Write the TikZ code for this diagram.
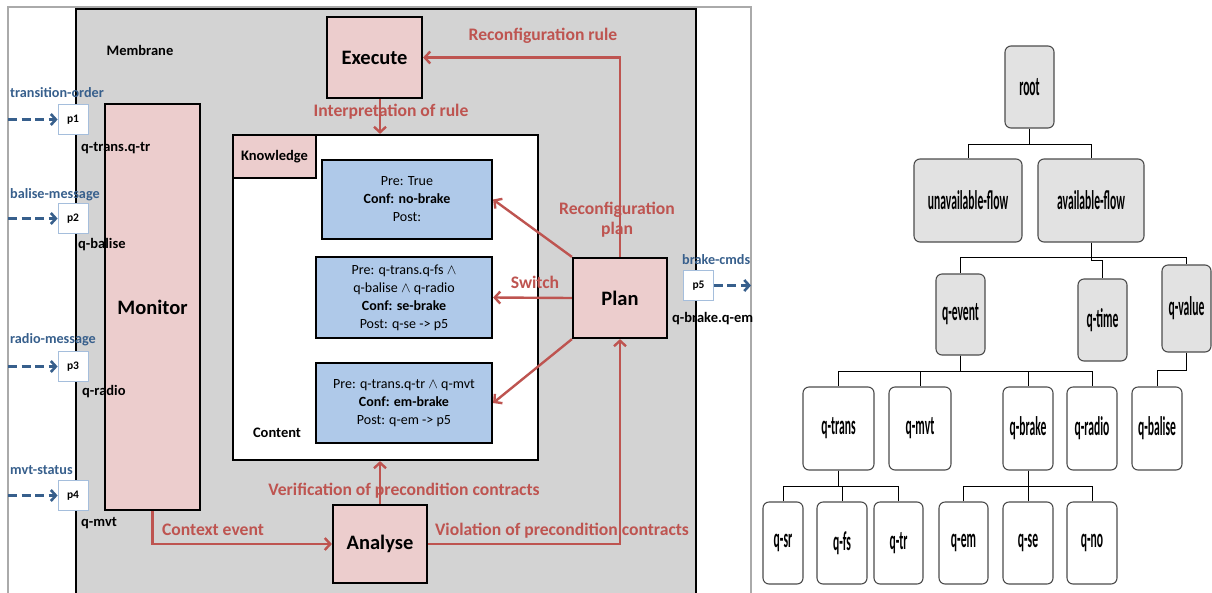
\documentclass[tikz,border=0pt]{standalone}
\usepackage{fontspec}
\setmainfont{Carlito}
\newfontfamily\treefont[FakeStretch=0.43]{Carlito}
\usetikzlibrary{arrows.meta}

\definecolor{memgray}{RGB}{211,211,211}
\definecolor{pinkfill}{RGB}{236,205,205}
\definecolor{bluefill}{RGB}{175,201,233}
\definecolor{flowred}{RGB}{190,84,80}
\definecolor{portblue}{RGB}{55,95,140}
\definecolor{portedge}{RGB}{165,190,220}
\definecolor{treegray}{RGB}{226,226,226}
\definecolor{framegray}{RGB}{170,170,170}

\tikzset{
  box/.style={draw=black, line width=2.2pt, inner sep=0pt},
  mape/.style={box, fill=pinkfill, font=\fontsize{20.5}{22}\selectfont\bfseries},
  contract/.style={box, fill=bluefill, align=center, font=\fontsize{14}{18}\selectfont},
  flow/.style={draw=flowred, line width=2.4pt, -{Straight Barb[length=5.5pt,width=12pt]}},
  flowlabel/.style={text=flowred, inner sep=0pt, font=\fontsize{17.6}{20}\selectfont\bfseries},
  port/.style={draw=portedge, fill=white, line width=0.8pt, minimum width=30pt,
    minimum height=30pt, inner sep=0pt, font=\fontsize{11.5}{12}\selectfont\bfseries},
  portlabel/.style={text=portblue, anchor=west, inner sep=0pt, font=\fontsize{14.2}{15}\selectfont\bfseries},
  qlabel/.style={anchor=west, inner sep=0pt, font=\fontsize{14.5}{15}\selectfont\bfseries},
  smalllabel/.style={inner sep=0pt, font=\fontsize{14.5}{15}\selectfont\bfseries},
  inflow/.style={draw=portblue, line width=2.6pt, dash pattern=on 9pt off 4.5pt,
    -{Straight Barb[length=5pt,width=11pt]}},
  tnode/.style={draw=black!70, line width=1.1pt, rounded corners=6pt, inner sep=0pt,
    font=\fontsize{27}{28}\selectfont\treefont\bfseries},
  tgray/.style={tnode, fill=treegray},
  twhite/.style={tnode, fill=white},
  tedge/.style={draw=black, line width=0.9pt},
}

\begin{document}
\begin{tikzpicture}[x=1pt, y=-1pt]
\useasboundingbox (0,0) rectangle (1212,592);
\begin{scope}
\clip (0,0) rectangle (1212,592);

% ---------------- MAPE-K component ----------------
\draw[framegray, line width=1.5pt] (8,620) -- (8,7) -- (751,7) -- (751,620);
\draw[box, fill=memgray] (76,9) rectangle (696,620);
\node[smalllabel] (membrane) at (140,50) {Membrane};

\node[mape, minimum width=95pt, minimum height=406pt] (monitor) at (152.5,307) {Monitor};
\node[mape, minimum width=95pt, minimum height=81pt] (execute) at (374.5,57.5) {Execute};
\node[mape, minimum width=94pt, minimum height=80pt] (plan) at (620,298) {Plan};
\node[mape, minimum width=94pt, minimum height=78pt] (analyse) at (380,544) {Analyse};

% knowledge base
\node[box, fill=white, minimum width=305pt, minimum height=325pt] (kb) at (385.5,297.5) {};
\node[box, fill=pinkfill, minimum width=83pt, minimum height=43pt,
      font=\fontsize{14.5}{15}\selectfont\bfseries, anchor=north west] (kblabel) at (kb.north west) {Knowledge};
\node[smalllabel] (content) at (277,433) {Content};

\node[contract, minimum width=170pt, minimum height=79pt] (c1) at (407,199.5)
  {Pre: True\\\textbf{Conf: no-brake}\\Post:};
\node[contract, minimum width=176pt, minimum height=81pt] (c2) at (404,297.5)
  {Pre: q-trans.q-fs $\wedge$\\q-balise $\wedge$ q-radio\\\textbf{Conf: se-brake}\\Post: q-se -> p5};
\node[contract, minimum width=176pt, minimum height=80pt] (c3) at (404,403)
  {Pre: q-trans.q-tr $\wedge$ q-mvt\\\textbf{Conf: em-brake}\\Post: q-em -> p5};

% control flow
\draw[flow] ([xshift=5.5pt]execute.south) -- ([xshift=5.5pt]execute.south |- kb.north);
\draw[flow] (plan.north) |- (execute.east);
\draw[flow] (plan.north west) -- (c1.east);
\draw[flow] (plan.west) -- (c2.east);
\draw[flow] (plan.south west) -- (c3.east);
\draw[flow] (analyse.north) -- (analyse.north |- kb.south);
\draw[flow] (analyse.east) -| (plan.south);
\draw[flow] (monitor.south) |- (analyse.west);

\node[flowlabel] (lint) at (391,112) {Interpretation of rule};
\node[flowlabel] (lrule) at (543,36) {Reconfiguration rule};
\node[flowlabel, align=center] (lplan) at (617,220) {Reconfiguration\\plan};
\node[flowlabel] (lswitch) at (535,282) {Switch};
\node[flowlabel] (lverif) at (404,491) {Verification of precondition contracts};
\node[flowlabel] (lctx) at (213,530) {Context event};
\node[flowlabel] (lviol) at (562,531) {Violation of precondition contracts};

% ports
\node[port] (p1) at (73,119.5) {p1};
\node[port] (p2) at (73,218.5) {p2};
\node[port] (p3) at (73,366.5) {p3};
\node[port] (p4) at (73,495.5) {p4};
\node[port] (p5) at (698.5,285.5) {p5};
\coordinate (in1) at (8,119.5);
\coordinate (in2) at (8,218.5);
\coordinate (in3) at (8,366.5);
\coordinate (in4) at (8,495.5);
\coordinate (out5) at (751,285.5);
\draw[inflow] (in1) -- (p1.west);
\draw[inflow] (in2) -- (p2.west);
\draw[inflow] (in3) -- (p3.west);
\draw[inflow] (in4) -- (p4.west);
\draw[inflow] (p5.east) -- (out5);

\node[portlabel] (t1) at (10,93) {transition-order};
\node[portlabel] (t2) at (10,195) {balise-message};
\node[portlabel] (t3) at (10,340) {radio-message};
\node[portlabel] (t4) at (10,470) {mvt-status};
\node[portlabel] (t5) at (682,260) {brake-cmds};

\node[qlabel] (q1) at (81,148) {q-trans.q-tr};
\node[qlabel] (q2) at (78,245) {q-balise};
\node[qlabel] (q3) at (82,392) {q-radio};
\node[qlabel] (q4) at (81,523) {q-mvt};
\node[qlabel] (q5) at (672,319) {q-brake.q-em};

% ---------------- event type hierarchy ----------------
\node[tgray, minimum width=49pt, minimum height=82pt] (root) at (1029.5,87) {root};
\node[tgray, minimum width=108pt, minimum height=83pt] (unav) at (968,200.5) {unavailable-flow};
\node[tgray, minimum width=106pt, minimum height=83pt] (avail) at (1091,200.5) {available-flow};
\node[tgray, minimum width=49pt, minimum height=81pt] (qevent) at (960.5,314.5) {q-event};
\node[tgray, minimum width=49pt, minimum height=82pt] (qtime) at (1102.5,320) {q-time};
\node[tgray, minimum width=49pt, minimum height=87pt] (qvalue) at (1186.5,308.5) {q-value};

\node[twhite, minimum width=71pt, minimum height=83pt] (qtrans) at (838.5,428.5) {q-trans};
\node[twhite, minimum width=62pt, minimum height=83pt] (qmvt) at (920,428.5) {q-mvt};
\node[twhite, minimum width=50pt, minimum height=83pt] (qbrake) at (1028,428.5) {q-brake};
\node[twhite, minimum width=50pt, minimum height=83pt] (qradio) at (1092,428.5) {q-radio};
\node[twhite, minimum width=50pt, minimum height=83pt] (qbalise) at (1157,428.5) {q-balise};

\node[twhite, minimum width=40pt, minimum height=82pt] (qsr) at (783,543) {q-sr};
\node[twhite, minimum width=50pt, minimum height=82pt] (qfs) at (842,543) {q-fs};
\node[twhite, minimum width=49pt, minimum height=82pt] (qtr) at (898.5,543) {q-tr};
\node[twhite, minimum width=49pt, minimum height=82pt] (qem) at (963.5,543) {q-em};
\node[twhite, minimum width=50pt, minimum height=82pt] (qse) at (1028,543) {q-se};
\node[twhite, minimum width=50pt, minimum height=82pt] (qno) at (1092,543) {q-no};

\draw[tedge] (root.south) -- ++(0,16) -| (unav.north);
\draw[tedge] (root.south) -- ++(0,16) -| (avail.north);
\draw[tedge] (avail.south) -- ++(0,15) -| (qevent.north);
\draw[tedge] (avail.south) -- ++(0,15) -| (qvalue.north);
\draw[tedge] (avail.south) -- ++(0,18) -| (qtime.north);
\foreach \c in {qtrans,qmvt,qbrake,qradio}
  \draw[tedge] (qevent.south) -- ++(0,16) -| (\c.north);
\draw[tedge] (qvalue.south) -- ++(0,18) -| (qbalise.north);
\foreach \c in {qsr,qfs,qtr}
  \draw[tedge] (qtrans.south) -- ++(0,16) -| (\c.north);
\foreach \c in {qem,qse,qno}
  \draw[tedge] (qbrake.south) -- ++(0,16) -| (\c.north);
\end{scope}
\end{tikzpicture}
\end{document}
